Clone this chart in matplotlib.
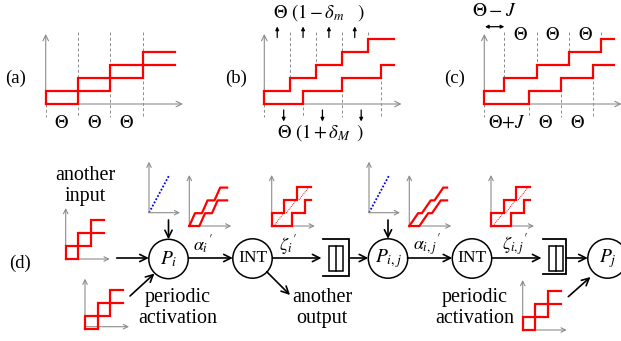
import matplotlib
matplotlib.use("Agg")
import matplotlib.pyplot as plt
from matplotlib.patches import Circle, Rectangle

plt.rcParams['font.family'] = ['Liberation Serif', 'DejaVu Serif']
plt.rcParams['mathtext.fontset'] = 'stix'

# ---- data: jump instants (in periods) of the two curves of each panel ----
a_upper = [0, 1, 2, 3]
a_lower = [1, 2, 3]
a_end = 4.0

b_upper = [0, 0.8, 1.6, 2.4, 3.2]      # period Theta(1 - delta_m), delta_m = 0.2
b_lower = [1.2, 2.4, 3.6]              # period Theta(1 + delta_M), delta_M = 0.2
b_end = 4.0

c_upper = [0, 0.62, 1.62, 2.62, 3.62]  # first period Theta - J, J = 0.38
c_lower = [1.38, 2.38, 3.38]           # first period Theta + J
c_end = 4.0

c_top_labels = [r'$\Theta$', r'$\Theta$', r'$\Theta$']
c_bot_labels = [r'$\Theta{+}J$', r'$\Theta$', r'$\Theta$']

# small plots of panel (d)
in_upper = [0, 1, 2]
in_lower = [1, 2]
in_end = 3.0
zeta_upper = [0, 1, 2]
zeta_lower = [1.6, 2.65]
zeta_end = 3.1

RED = '#ff0000'
GRAY = '#8c8c8c'
FS = 13.5      # math / panel labels
FW = 14.5      # words

fig = plt.figure(figsize=(6.21, 3.41), dpi=100)
ax = fig.add_axes([0, 0, 1, 1])
ax.set_xlim(0, 621)
ax.set_ylim(341, 0)
ax.axis('off')


def steps(x0, y0, px, py, jumps, t_end):
    xs, ys = [x0], [y0]
    lev = 0
    for t in jumps:
        xs += [x0 + t * px, x0 + t * px]
        ys += [y0 - lev * py, y0 - (lev + 1) * py]
        lev += 1
    xs.append(x0 + t_end * px)
    ys.append(y0 - lev * py)
    return xs, ys


def axes_arrows(x0, y0, xlen, ylen, ms=8):
    kw = dict(arrowstyle='->', color=GRAY, lw=0.8, shrinkA=0, shrinkB=0,
              mutation_scale=ms)
    ax.annotate('', xy=(x0 + xlen, y0), xytext=(x0, y0), arrowprops=kw)
    ax.annotate('', xy=(x0, y0 - ylen), xytext=(x0, y0), arrowprops=kw)


def arrow(p0, p1, ms=13, lw=1.2, style='->', color='k'):
    ax.annotate('', xy=p1, xytext=p0,
                arrowprops=dict(arrowstyle=style, color=color, lw=lw,
                                shrinkA=0, shrinkB=0, mutation_scale=ms))


def panel(x0, y0, up, lo, t_end, px=32.3, py=13.0, top=32, bot=117):
    axes_arrows(x0, y0, t_end * px + 8, y0 - top - 2, ms=10)
    # dashed period marks
    for k, t in enumerate(up):
        if t > 0:
            ax.plot([x0 + t * px] * 2, [top, y0 - (k + 1) * py],
                    color=GRAY, lw=0.7, ls=(0, (3, 2.5)), zorder=1)
    for k, t in enumerate([0] + lo):
        ax.plot([x0 + t * px] * 2, [y0 - k * py, bot],
                color=GRAY, lw=0.7, ls=(0, (3, 2.5)), zorder=1)
    for j in (up, lo):
        xs, ys = steps(x0, y0, px, py, j, t_end)
        ax.plot(xs, ys, color=RED, lw=1.6, solid_joinstyle='miter', zorder=3)


# ---- panel (a) ----
ax.text(16, 78, '(a)', fontsize=FS, ha='center', va='center')
panel(45.7, 104, a_upper, a_lower, a_end)
for k in range(3):
    ax.text(45.7 + (k + 0.5) * 32.3, 124, r'$\Theta$', fontsize=FS,
            ha='center', va='center')

# ---- panel (b) ----
ax.text(236, 78, '(b)', fontsize=FS, ha='center', va='center')
panel(264.3, 104, b_upper, b_lower, b_end)
for a, b in zip(b_upper[:-1], b_upper[1:]):
    xm = 264.3 + (a + b) / 2 * 32.3
    arrow((xm, 37.5), (xm, 26.5), ms=5, lw=0.9, style='-|>')
lo_b = [0] + b_lower
for a, b in zip(lo_b[:-1], lo_b[1:]):
    xm = 264.3 + (a + b) / 2 * 32.3
    arrow((xm, 110), (xm, 121.5), ms=5, lw=0.9, style='-|>')
ax.text(273, 13, r'$\Theta\ (1 - \delta_m\quad)$', fontsize=FS,
        ha='left', va='center')
ax.text(277, 133, r'$\Theta\ (1 + \delta_M\ \,)$', fontsize=FS,
        ha='left', va='center')

# ---- panel (c) ----
ax.text(455, 78, '(c)', fontsize=FS, ha='center', va='center')
panel(484.3, 104, c_upper, c_lower, c_end)
for k, (a, b) in enumerate(zip(c_upper[1:-1], c_upper[2:])):
    ax.text(484.3 + (a + b) / 2 * 32.3, 35, c_top_labels[k], fontsize=FS,
            ha='center', va='center')
lo_c = [0] + c_lower
for k, (a, b) in enumerate(zip(lo_c[:-1], lo_c[1:])):
    ax.text(484.3 + (a + b) / 2 * 32.3, 123, c_bot_labels[k], fontsize=FS,
            ha='center', va='center')
ax.text(494, 12, r'$\Theta - J$', fontsize=FS + 0.5, ha='center',
        va='center')
arrow((485, 26.7), (484.3 + c_upper[1] * 32.3, 26.7), ms=5, lw=0.9,
      style='<|-|>')

# ---- panel (d) ----
ax.text(20, 263, '(d)', fontsize=FS, ha='center', va='center')
ax.text(85, 186, 'another\ninput', fontsize=FW, ha='center', va='center',
        linespacing=1.15)
ax.text(178, 308, 'periodic\nactivation', fontsize=FW, ha='center',
        va='center', linespacing=1.15)
ax.text(322, 308, 'another\noutput', fontsize=FW, ha='center',
        va='center', linespacing=1.15)
ax.text(475, 308, 'periodic\nactivation', fontsize=FW, ha='center',
        va='center', linespacing=1.15)


def square_plot(x0, y0, yax, xax, up, lo, t_end, dy=0):
    axes_arrows(x0, y0, xax, yax)
    for j in (up, lo):
        xs, ys = steps(x0, y0 + dy, 12.6, 13.0, j, t_end)
        ax.plot(xs, ys, color=RED, lw=1.6, solid_joinstyle='miter', zorder=3)


square_plot(65.7, 259, 51, 44, in_upper, in_lower, in_end)
square_plot(85, 326.7, 48, 44, in_upper, in_lower, in_end, dy=2.5)
square_plot(522.7, 330, 50, 44, in_upper, in_lower, in_end)


def blue_plot(x0, y0):
    axes_arrows(x0, y0, 31, 51)
    ax.plot([x0, x0 + 20.3], [y0, y0 - 37.7], color='#0000ff', lw=1.3,
            ls=(0, (1, 1)))


blue_plot(149, 212.7)
blue_plot(369, 212.7)


def alpha_plot(x0, y0, w):
    axes_arrows(x0, y0, 42, 51)
    # two staircases with ramped risers (width w of one period)
    for start, n in ((0.0, 3), (0.8, 2)):
        xs, ys = [x0], [y0]
        for k in range(n):
            t = start + k
            xs += [x0 + t * 12.6, x0 + (t + w) * 12.6]
            ys += [y0 - k * 12.8, y0 - (k + 1) * 12.8]
        xs.append(x0 + 3.0 * 12.6)
        ys.append(y0 - n * 12.8)
        ax.plot(xs, ys, color=RED, lw=1.6, zorder=3)


alpha_plot(189.3, 226, 0.45)
alpha_plot(409.3, 226, 0.7)


def zeta_plot(x0, y0):
    axes_arrows(x0, y0, 43, 51)
    for j in (zeta_upper, zeta_lower):
        xs, ys = steps(x0, y0, 12.6, 13.0, j, zeta_end)
        ax.plot(xs, ys, color=RED, lw=1.6, solid_joinstyle='miter', zorder=3)
    for k in range(3):
        t = zeta_upper[k]
        ax.plot([x0 + t * 12.6 + 2, x0 + (t + 0.8) * 12.6 + 2],
                [y0 - k * 13.0, y0 - (k + 1) * 13.0],
                color=RED, lw=0.7, ls=(0, (1, 1)), zorder=2)


zeta_plot(271.7, 226)
zeta_plot(491, 226)

# nodes
nodes = [((168.5, 259), r'$P_i$'), ((252.5, 258.5), 'INT'),
         ((388, 258.5), r'$P_{i,j}$'), ((472, 258.5), 'INT'),
         ((607.5, 258.5), r'$P_j$')]
for (cx, cy), lab in nodes:
    ax.add_patch(Circle((cx, cy), 19.7, fill=False, ec='k', lw=1.1))
    if lab == 'INT':
        ax.text(cx, cy, lab, fontsize=12.5, ha='center', va='center')
    else:
        ax.text(cx, cy, lab, fontsize=14, ha='center', va='center')


def queue(x0, x1, y0, y1, ix0, ix1):
    ax.plot([x0, x1, x1, x0], [y0, y0, y1, y1], color='k', lw=1.3,
            solid_joinstyle='miter')
    ax.add_patch(Rectangle((ix0, 246), ix1 - ix0, 24.7, fill=False,
                           ec='k', lw=1.1))
    xm = (ix0 + ix1) / 2
    ax.plot([xm, xm], [246, 270.7], color='k', lw=1.1)


queue(323.3, 349.3, 239.3, 276, 329.3, 343.3)
queue(543.3, 565.7, 239.3, 274, 549.3, 562.7)

# flow arrows
yl = 258
for p0, p1 in [((116.7, yl), (148.8, yl)), ((188.5, yl), (232.8, yl)),
               ((272.5, yl), (321.5, yl)), ((350.5, yl), (368.3, yl)),
               ((407.5, yl), (452.3, yl)), ((492, yl), (541.5, yl)),
               ((566.5, yl), (587.8, yl)),
               ((168.5, 220), (168.5, 239.3)), ((388, 220), (388, 238.8)),
               ((130, 296), (154.5, 273.5)), ((266.7, 271.7), (290, 295)),
               ((568.3, 296.7), (590.5, 277))]:
    arrow(p0, p1)

# edge labels: symbol with subscript plus a raised prime, one math string
edge_labels = [(203, r"$\alpha_i\,^{\!\prime}$"), (288, r"$\zeta_i\,^{\!\prime}$"),
               (427, r"$\alpha_{i,j}\,^{\!\prime}$"),
               (515, r"$\zeta_{i,j}\,^{\!\prime}$")]
for x, s in edge_labels:
    ax.text(x, 245, s, fontsize=13, ha='center', va='center')

fig.savefig('out.png', dpi=100)
